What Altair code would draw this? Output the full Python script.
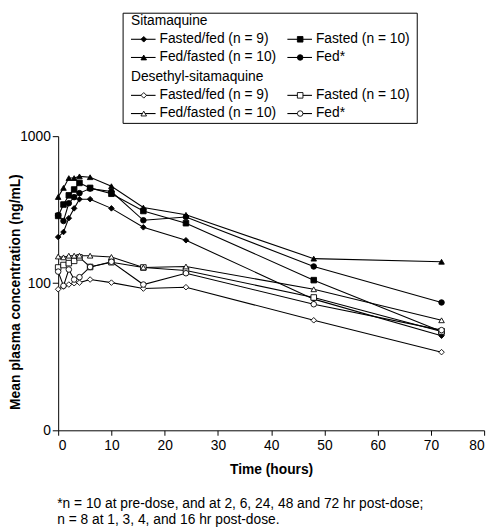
import altair as alt
import pandas as pd

# ---------------- data ----------------
time_h = [0, 1, 2, 3, 4, 6, 10, 16, 24, 48, 72]
groups = ["Fasted/fed (n = 9)", "Fasted (n = 10)", "Fed/fasted (n = 10)", "Fed*"]
compounds = ["Sitamaquine", "Desethyl-sitamaquine"]

sita_fasted_fed = [206, 223, 277, 323, 373, 373, 323, 240, 196, 78, 44]
sita_fasted = [287, 343, 396, 434, 481, 445, 406, 310, 256, 105, 47]
sita_fed_fasted = [386, 445, 519, 519, 533, 526, 457, 327, 292, 147, 140]
sita_fed = [290, 265, 350, 385, 410, 440, 420, 268, 282, 130, 74]

des_fasted_fed = [91, 95, 98, 100, 101, 106, 101, 92, 94, 56, 34]
des_fasted = [128, 133, 137, 142, 150, 129, 139, 128, 122, 80, 47]
des_fed_fasted = [152, 150, 154, 154, 154, 154, 151, 128, 130, 91, 56]
des_fed = [120, 96, 124, 106, 110, 129, 140, 98, 117, 72, 48]

y_ticks = [10, 100, 1000]
footnote = [
    "*n = 10 at pre-dose, and at 2, 6, 24, 48 and 72 hr post-dose;",
    "n = 8 at 1, 3, 4, and 16 hr post-dose.",
]

series = {
    "Sitamaquine": [sita_fasted_fed, sita_fasted, sita_fed_fasted, sita_fed],
    "Desethyl-sitamaquine": [des_fasted_fed, des_fasted, des_fed_fasted, des_fed],
}

rows = []
for comp in compounds:
    for g, vals in zip(groups, series[comp]):
        for t, v in zip(time_h, vals):
            rows.append({"compound": comp, "group": g, "key": comp + "|" + g,
                         "time": t, "value": v})
df = pd.DataFrame(rows)

FONT = "Liberation Sans"
shape_scale = alt.Scale(domain=groups,
                        range=["diamond", "square", "triangle-up", "circle"])
fill_scale = alt.Scale(domain=compounds, range=["black", "white"])

x_enc = alt.X("time:Q",
              scale=alt.Scale(domain=[0, 80], nice=False, zero=False),
              axis=alt.Axis(values=list(range(0, 81, 10)), title="Time (hours)",
                            titleFontWeight="bold", titleFontSize=14,
                            titleY=40, titleBaseline="middle",
                            tickSize=5, labelPadding=4, grid=False))
y_enc = alt.Y("value:Q",
              scale=alt.Scale(type="log", domain=[10, 1000], nice=False),
              axis=alt.Axis(values=y_ticks,
                            labelExpr="datum.value <= 10 ? '0' : toString(datum.value)",
                            title="Mean plasma concentration (ng/mL)",
                            titleFontWeight="bold", titleFontSize=14,
                            titleAngle=-90, titleX=-43, titleY=158,
                            titleAlign="center", titleBaseline="middle",
                            tickSize=6, labelPadding=2, grid=False))

lines = alt.Chart(df).mark_line(color="black", strokeWidth=1.1).encode(
    x=x_enc, y=y_enc, detail="key:N", order="time:Q")

points = alt.Chart(df).mark_point(filled=True, stroke="black", strokeWidth=0.9,
                                  size=32, opacity=1).encode(
    x="time:Q", y="value:Q",
    shape=alt.Shape("group:N", scale=shape_scale, legend=None),
    fill=alt.Fill("compound:N", scale=fill_scale, legend=None))

# ---------------- legend (layout computed from index) ----------------
leg_rows = []
head_rows = []
top = -117
step = 18.5
for ci, comp in enumerate(compounds):
    base = top + ci * 3 * step + (ci * 1.5)
    head_rows.append({"label": comp, "lx": 74, "ly": base})
    for gi, g in enumerate(groups):
        col, r = gi % 2, gi // 2
        x0 = 74 + col * 159
        leg_rows.append({"compound": comp, "group": g, "label": g,
                         "x0": x0, "x1": x0 + 25, "xm": x0 + 13, "xt": x0 + 29,
                         "ly": base + (r + 1) * step})
leg_df = pd.DataFrame(leg_rows)
head_df = pd.DataFrame(head_rows)

box = alt.Chart(alt.Data(values=[{}])).mark_rect(
    fill="white", stroke="black", strokeWidth=1).encode(
    x=alt.value(66), x2=alt.value(365), y=alt.value(-125), y2=alt.value(-13))

leg_lines = alt.Chart(leg_df).mark_rule(color="black", strokeWidth=1.1).encode(
    x=alt.X("x0:Q", scale=None, axis=None), x2="x1:Q",
    y=alt.Y("ly:Q", scale=None, axis=None))
leg_pts = alt.Chart(leg_df).mark_point(filled=True, stroke="black",
                                       strokeWidth=0.9, size=32, opacity=1).encode(
    x=alt.X("xm:Q", scale=None, axis=None),
    y=alt.Y("ly:Q", scale=None, axis=None),
    shape=alt.Shape("group:N", scale=shape_scale, legend=None),
    fill=alt.Fill("compound:N", scale=fill_scale, legend=None))
leg_text = alt.Chart(leg_df).mark_text(align="left", baseline="middle",
                                       font=FONT, fontSize=14, color="black").encode(
    x=alt.X("xt:Q", scale=None, axis=None),
    y=alt.Y("ly:Q", scale=None, axis=None), text="label:N")
head_text = alt.Chart(head_df).mark_text(align="left", baseline="middle",
                                         font=FONT, fontSize=14, color="black").encode(
    x=alt.X("lx:Q", scale=None, axis=None),
    y=alt.Y("ly:Q", scale=None, axis=None), text="label:N")

foot_df = pd.DataFrame({"t": footnote,
                        "fy": [378 + 16 * i for i in range(len(footnote))]})
foot = alt.Chart(foot_df).mark_text(align="left", baseline="alphabetic",
                                    font=FONT, fontSize=14, color="black").encode(
    x=alt.value(-1), y=alt.Y("fy:Q", scale=None, axis=None), text="t:N")

chart = alt.layer(lines, points, box, leg_lines, leg_pts, leg_text, head_text, foot).properties(
    width=433, height=299,
    autosize=alt.AutoSizeParams(type="none"),
    padding={"left": 51, "top": 126, "right": 8, "bottom": 95},
).configure_view(stroke=None).configure_axis(
    domainColor="black", tickColor="black", labelColor="black",
    titleColor="black", labelFont=FONT, titleFont=FONT, labelFontSize=14,
    domainWidth=1, tickWidth=1,
).configure_text(font=FONT)

chart.save("out.html", embed_options={"renderer": "svg", "actions": False})
